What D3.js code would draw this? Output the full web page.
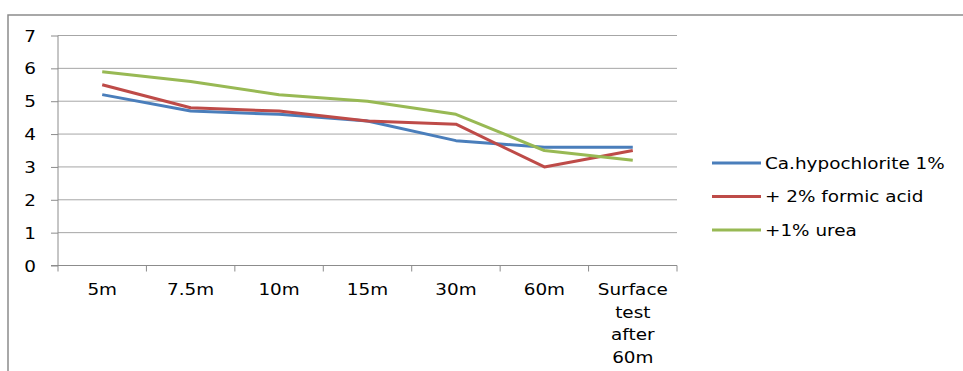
<!DOCTYPE html>
<html>
<head>
<meta charset="utf-8">
<script src="https://cdn.jsdelivr.net/npm/d3@7"></script>
<style>
  html, body { margin: 0; padding: 0; background: #fff; }
  svg { display: block; }
  text { font-family: "DejaVu Sans", sans-serif; fill: #000; }
</style>
</head>
<body>
<svg id="chart" width="963" height="371"></svg>
<script>
// Treatment time points along the x axis
const categories = ["5m", "7.5m", "10m", "15m", "30m", "60m", "Surface test after 60m"];
const seriesNames = ["Ca.hypochlorite 1%", "+ 2% formic acid", "+1% urea"];
const hypochlorite = [5.2, 4.7, 4.6, 4.4, 3.8, 3.6, 3.6];
const formicAcid   = [5.5, 4.8, 4.7, 4.4, 4.3, 3.0, 3.5];
const urea         = [5.9, 5.6, 5.2, 5.0, 4.6, 3.5, 3.2];
const yTicks = [0, 1, 2, 3, 4, 5, 6, 7];
const colors = ["#4a7ebb", "#be4b48", "#98b954"];

const series = seriesNames.map((name, i) => ({
  name,
  values: [hypochlorite, formicAcid, urea][i],
  color: colors[i]
}));

const svg = d3.select("#chart");
const plot = { left: 58, right: 677, top: 35.5, bottom: 265.5 };
const textScaleX = 1.15;

// Outer chart frame (top and left edges visible)
svg.append("path")
  .attr("d", "M8,371 L8,15 L963,15")
  .attr("fill", "none")
  .attr("stroke", "#8c8c8c")
  .attr("stroke-width", 1.5);

const x = d3.scaleBand().domain(categories).range([plot.left, plot.right]).padding(0);
const y = d3.scaleLinear().domain([0, 7]).range([plot.bottom, plot.top]);

// Horizontal gridlines
svg.append("g")
  .selectAll("line")
  .data(yTicks.filter(d => d > 0))
  .join("line")
  .attr("x1", plot.left).attr("x2", plot.right)
  .attr("y1", d => y(d)).attr("y2", d => y(d))
  .attr("stroke", "#a6a6a6").attr("stroke-width", 1);

// Y axis
const yAxis = svg.append("g")
  .attr("transform", `translate(${plot.left},0)`)
  .call(d3.axisLeft(y).tickValues(yTicks).tickSize(7).tickPadding(0).tickFormat(d3.format("d")));
yAxis.select(".domain").attr("stroke", "#8c8c8c").attr("d", `M0,${plot.bottom}V${plot.top}`);
yAxis.selectAll(".tick line").attr("stroke", "#8c8c8c");
yAxis.selectAll(".tick text").remove();
yAxis.selectAll(".tick").append("text")
  .attr("text-anchor", "end")
  .attr("dominant-baseline", "central")
  .attr("font-size", 16)
  .attr("transform", `translate(-22,0) scale(${textScaleX},1)`)
  .text(d => d);

// X axis with ticks at band boundaries
const xAxis = svg.append("g").attr("transform", `translate(0,${plot.bottom})`);
xAxis.append("line")
  .attr("x1", plot.left - 7).attr("x2", plot.right)
  .attr("stroke", "#8c8c8c");
const boundaries = categories.map(c => x(c)).concat([plot.right]);
xAxis.selectAll("line.tick")
  .data(boundaries)
  .join("line")
  .attr("class", "tick")
  .attr("x1", d => d).attr("x2", d => d)
  .attr("y1", 0).attr("y2", 6)
  .attr("stroke", "#8c8c8c");

// Category labels, wrapped to the band width
const lineHeight = 22.5;
categories.forEach(c => {
  const cx = x(c) + x.bandwidth() / 2;
  const words = c.split(" ");
  const g = xAxis.append("g").attr("transform", `translate(${cx},24) scale(${textScaleX},1)`);
  g.selectAll("text")
    .data(words)
    .join("text")
    .attr("text-anchor", "middle")
    .attr("dominant-baseline", "central")
    .attr("font-size", 16)
    .attr("y", (d, i) => i * lineHeight)
    .text(d => d);
});

// Series lines
const line = d3.line()
  .x((d, i) => x(categories[i]) + x.bandwidth() / 2)
  .y(d => y(d));

svg.append("g")
  .selectAll("path")
  .data(series)
  .join("path")
  .attr("d", d => line(d.values))
  .attr("fill", "none")
  .attr("stroke", d => d.color)
  .attr("stroke-width", 3)
  .attr("stroke-linejoin", "round");

// Legend
const legend = svg.append("g").attr("transform", "translate(712,163)");
const items = legend.selectAll("g")
  .data(series)
  .join("g")
  .attr("transform", (d, i) => `translate(0,${i * 33.5})`);
items.append("line")
  .attr("x1", 0).attr("x2", 49)
  .attr("stroke", d => d.color).attr("stroke-width", 3);
items.append("text")
  .attr("transform", `translate(53,0) scale(${textScaleX},1)`)
  .attr("dominant-baseline", "central")
  .attr("font-size", 16)
  .text(d => d.name);
</script>
</body>
</html>
